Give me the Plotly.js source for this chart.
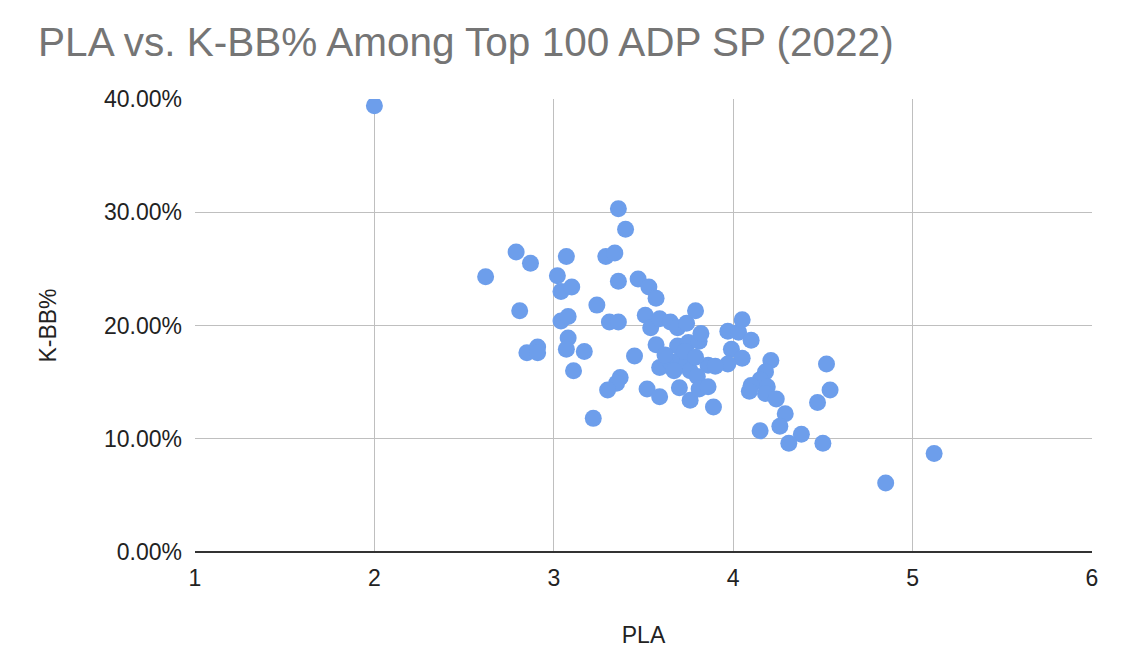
<!DOCTYPE html>
<html>
<head>
<meta charset="utf-8">
<script src="https://cdn.plot.ly/plotly-3.0.1.min.js"></script>
<style>
  html, body { margin: 0; padding: 0; background: #fff; }
  #plotDiv { width: 1121px; height: 670px; }
</style>
</head>
<body>
<div id="plotDiv"></div>
<script>
// PLA per starting pitcher
var pla = [
  2.00, 2.62, 2.79, 2.87, 2.81, 2.85, 2.91, 2.91, 3.02, 3.04,
  3.07, 3.10, 3.04, 3.08, 3.08, 3.07, 3.17, 3.11, 3.22, 3.24,
  3.29, 3.34, 3.36, 3.40, 3.36, 3.31, 3.36, 3.37, 3.35, 3.30,
  3.47, 3.45, 3.53, 3.57, 3.51, 3.54, 3.59, 3.65, 3.69, 3.74,
  3.79, 3.57, 3.69, 3.75, 3.81, 3.82, 3.97, 4.03, 4.05, 4.10,
  3.99, 4.05, 3.97, 3.86, 3.90, 4.21, 4.18, 4.15, 4.10, 4.09,
  4.19, 4.18, 4.24, 4.52, 4.54, 4.47, 4.29, 4.26, 4.15, 4.38,
  4.31, 4.50, 5.12, 4.85, 3.59, 3.65, 3.71, 3.74, 3.76, 3.80,
  3.67, 3.52, 3.59, 3.70, 3.76, 3.81, 3.86, 3.89, 3.62, 3.73,
  3.79
];
// K-BB% (fraction)
var kbb = [
  0.394, 0.243, 0.265, 0.255, 0.213, 0.176, 0.181, 0.176, 0.244, 0.230,
  0.261, 0.234, 0.204, 0.208, 0.189, 0.179, 0.177, 0.160, 0.118, 0.218,
  0.261, 0.264, 0.303, 0.285, 0.239, 0.203, 0.203, 0.154, 0.149, 0.143,
  0.241, 0.173, 0.234, 0.224, 0.209, 0.198, 0.206, 0.203, 0.198, 0.202,
  0.213, 0.183, 0.182, 0.185, 0.186, 0.193, 0.195, 0.194, 0.205, 0.187,
  0.179, 0.171, 0.166, 0.165, 0.164, 0.169, 0.159, 0.152, 0.147, 0.142,
  0.146, 0.140, 0.135, 0.166, 0.143, 0.132, 0.122, 0.111, 0.107, 0.104,
  0.096, 0.096, 0.087, 0.061, 0.163, 0.168, 0.171, 0.166, 0.160, 0.155,
  0.160, 0.144, 0.137, 0.145, 0.134, 0.144, 0.146, 0.128, 0.174, 0.177,
  0.172
];

var data = [{
  type: "scatter",
  mode: "markers",
  x: pla,
  y: kbb,
  marker: { color: "#6d9eeb", size: 17, line: { width: 0 } },
  hoverinfo: "x+y"
}];

var layout = {
  width: 1121,
  height: 670,
  margin: { l: 195, r: 29, t: 99, b: 118 },
  paper_bgcolor: "#ffffff",
  plot_bgcolor: "#ffffff",
  font: { family: "Liberation Sans, Arial, sans-serif", color: "#222222", size: 23 },
  showlegend: false,
  title: {
    text: "PLA vs. K-BB% Among Top 100 ADP SP (2022)",
    font: { size: 40.5, color: "#757575" },
    xref: "container", yref: "container",
    x: 0.034, xanchor: "left",
    y: 0.938, yanchor: "middle"
  },
  xaxis: {
    range: [1, 6],
    dtick: 1,
    showgrid: true,
    gridcolor: "#bfbfbf",
    gridwidth: 1,
    zeroline: false,
    showline: false,
    ticks: "",
    ticklabelstandoff: 10,
    tickfont: { size: 23, color: "#222222" },
    title: { text: "PLA", font: { size: 23, color: "#222222" }, standoff: 36 }
  },
  yaxis: {
    range: [0, 0.4],
    dtick: 0.1,
    tickformat: ".2%",
    showgrid: true,
    gridcolor: "#bfbfbf",
    gridwidth: 1,
    zeroline: true,
    zerolinecolor: "#333333",
    zerolinewidth: 2,
    showline: false,
    ticks: "",
    ticklabelstandoff: 12,
    tickfont: { size: 23, color: "#222222" },
    title: { text: "K-BB%", font: { size: 23, color: "#222222" }, standoff: 40 }
  }
};

Plotly.newPlot("plotDiv", data, layout, { displayModeBar: false, staticPlot: true });
</script>
</body>
</html>
